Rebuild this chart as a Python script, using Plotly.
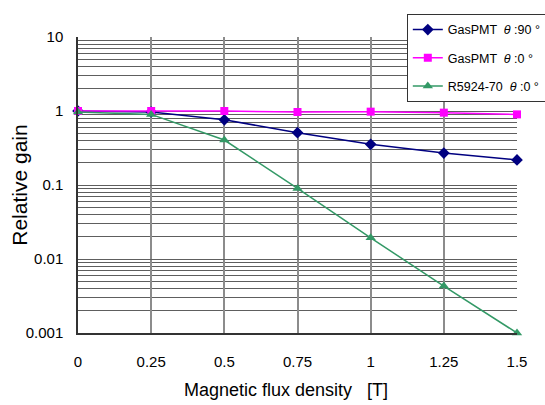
import plotly.graph_objects as go

# Magnetic flux density [T]
flux = [0, 0.25, 0.5, 0.75, 1.0, 1.25, 1.5]

# Relative gain for each detector / orientation
gas_pmt_90 = [1.0, 0.97, 0.76, 0.51, 0.355, 0.27, 0.218]
gas_pmt_0 = [1.0, 1.0, 1.0, 0.97, 0.98, 0.95, 0.9]
r5924_0 = [0.97, 0.9, 0.405, 0.09, 0.0193, 0.0043, 0.001]

y_ticks = [0.001, 0.01, 0.1, 1, 10]
y_tick_text = ["0.001", "0.01", "0.1", "1", "10"]
x_ticks = [0, 0.25, 0.5, 0.75, 1, 1.25, 1.5]
x_tick_text = ["0", "0.25", "0.5", "0.75", "1", "1.25", "1.5"]

FONT = "Liberation Sans, Arial, sans-serif"
HGRID = "#5e5e5e"
VGRID = "#8c8c8c"

fig = go.Figure()

series = [
    ("GasPMT  <i>θ</i> :90 °", gas_pmt_90, "#000080", "diamond", 9),
    ("GasPMT  <i>θ</i> :0 °", gas_pmt_0, "#FF00FF", "square", 8),
    ("R5924-70  <i>θ</i> :0 °", r5924_0, "#339966", "triangle-up", 9),
]
for i, (name, vals, color, sym, size) in enumerate(series):
    fig.add_trace(go.Scatter(
        x=flux, y=vals, name=name, mode="lines+markers",
        line=dict(color=color, width=1.5),
        marker=dict(symbol=sym, size=size, color=color),
        legendgroup=f"g{i}",
        cliponaxis=False,
    ))

fig.update_layout(
    width=545, height=405,
    margin=dict(l=78, r=28, t=37, b=72, autoexpand=False),
    paper_bgcolor="white", plot_bgcolor="white",
    font=dict(family=FONT, color="black"),
    showlegend=True,
    legend=dict(
        x=0.749, y=1.078, xanchor="left", yanchor="top",
        bgcolor="white", bordercolor="#333333", borderwidth=1,
        font=dict(family=FONT, size=12.5, color="black"),
        tracegroupgap=9, itemwidth=30,
    ),
    xaxis=dict(
        range=[0, 1.5], tickvals=x_ticks, ticktext=x_tick_text,
        showgrid=True, gridcolor=VGRID, gridwidth=1.5,
        showline=True, linecolor="#333333", linewidth=1.5,
        ticks="", ticklabelstandoff=14,
        tickfont=dict(size=15, family=FONT, color="black"),
        zeroline=False,
    ),
    yaxis=dict(
        type="log", range=[-3, 1], tickvals=y_ticks, ticktext=y_tick_text,
        showgrid=True, gridcolor=HGRID, gridwidth=1,
        showline=True, linecolor="#333333", linewidth=1.5,
        ticks="", ticklabelstandoff=10,
        tickfont=dict(size=15, family=FONT, color="black"),
        minor=dict(dtick="D1", showgrid=True, gridcolor=HGRID, gridwidth=1),
        zeroline=False,
    ),
    annotations=[
        dict(text="Relative gain", textangle=-90, xref="paper", yref="paper",
             x=-0.135, y=0.5, xanchor="center", yanchor="middle",
             showarrow=False, font=dict(size=21, family=FONT, color="black")),
        dict(text="Magnetic flux density &nbsp; [T]", xref="paper", yref="paper",
             x=0.473, y=-0.193, xanchor="center", yanchor="middle",
             showarrow=False, font=dict(size=18, family=FONT, color="black")),
    ],
)

fig.write_html("out.html")
